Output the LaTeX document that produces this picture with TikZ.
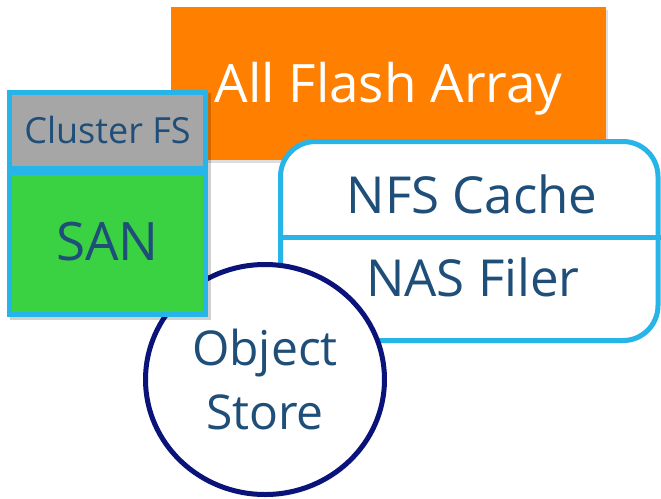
\documentclass[tikz,border=0pt]{standalone}
\usepackage{fontspec}
\setmainfont{Open Sans}
\usetikzlibrary{shadows,shapes.geometric}
\definecolor{orangefill}{HTML}{FF7F00}
\definecolor{greenfill}{HTML}{3AD142}
\definecolor{grayfill}{HTML}{A6A6A6}
\definecolor{skyline}{HTML}{27B5E9}
\definecolor{textblue}{HTML}{1F4E79}
\definecolor{navyline}{HTML}{0A137A}
\tikzset{
  softshadow/.style={drop shadow={shadow xshift=1.5pt,shadow yshift=-2.5pt,opacity=0.22,fill=black!60}},
  capcentred/.style={text height=#1,text depth=0pt,inner sep=0pt,align=center},
  afabox/.style={rectangle,fill=orangefill,softshadow,minimum width=435pt,minimum height=153pt,
    text=white,capcentred=37.8pt,font=\fontsize{53}{60}\selectfont},
  lbox/.style={rectangle,draw=skyline,line width=5pt,minimum width=196pt,text=textblue},
  nasbox/.style={rectangle,draw=skyline,line width=5pt,fill=white,rounded corners=35pt,softshadow,
    minimum width=377.5pt,minimum height=199pt},
  nastext/.style={text=textblue,capcentred=36.4pt,font=\fontsize{51}{56}\selectfont},
  objcircle/.style={ellipse,draw=navyline,line width=5pt,fill=white,softshadow,
    minimum width=239pt,minimum height=230pt,text=textblue,align=center,inner sep=0pt,
    font=\fontsize{48}{64}\selectfont},
}
\begin{document}
\begin{tikzpicture}[x=1pt,y=1pt]
\useasboundingbox (0,0) rectangle (661,-498);
\fill[white] (0,0) rectangle (661,-498);
% orange
\node[afabox] (afa) at (388.5,-83.5) {All Flash Array};
% NAS box
\node[nasbox] (nas) at (469.25,-241) {};
\draw[skyline,line width=5pt] (nas.west |- 0,-237) coordinate (divl) -- (nas.east |- 0,-237) coordinate (divr);
\node[nastext] (nfs) at (472,-195) {NFS Cache};
\node[nastext] (filer) at (473,-278) {NAS Filer};
% object store
\node[objcircle] (obj) at (265,-379.5) {Object\\Store};
% left box
\fill[black,opacity=0.18] (10,-93) rectangle (211,-320);
\node[lbox,fill=grayfill,minimum height=77.5pt,capcentred=25.7pt,font=\fontsize{36}{40}\selectfont] (cfs) at (107.5,-131) {Cluster FS};
\node[lbox,fill=greenfill,minimum height=146.5pt,capcentred=37.8pt,font=\fontsize{53}{56}\selectfont] (san) at (107.5,-241.5) {SAN};
\draw[skyline,line width=5pt] (cfs.south west) -- (cfs.south east);
\end{tikzpicture}
\end{document}
